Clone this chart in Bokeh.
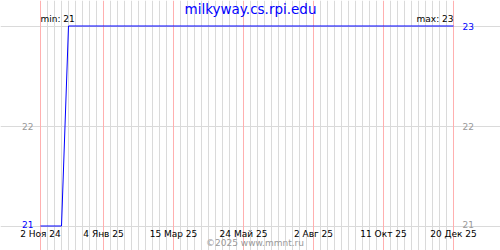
import pandas as pd
from bokeh.plotting import figure
from bokeh.models import Range1d, FixedTicker, Grid
from bokeh.core.properties import value
from bokeh.embed import file_html
from bokeh.resources import INLINE

title_text = "milkyway.cs.rpi.edu"
footer_text = "©2025 www.mmnt.ru"
dates = ["2024-11-02", "2024-11-23", "2024-11-30", "2025-12-20"]
values = [21, 21, 23, 23]
x_start_date = "2024-11-02"
x_end_date = "2025-12-20"
label_dates = ["2024-11-02", "2025-01-04", "2025-03-15", "2025-05-24",
               "2025-08-02", "2025-10-11", "2025-12-20"]
label_texts = ["2 Ноя 24", "4 Янв 25", "15 Мар 25", "24 Май 25",
               "2 Авг 25", "11 Окт 25", "20 Дек 25"]
y_ticks = [21, 22, 23]

DAY = 86400000


def ms(d):
    return pd.Timestamp(d).value // 10**6


xs = [ms(d) for d in dates]
x0, x1 = ms(x_start_date), ms(x_end_date)
red_ticks = [ms(d) for d in label_dates]
week_ticks = [int(t) for t in pd.date_range(x_start_date, x_end_date, freq="7D").astype("int64") // 10**6
              if int(t) not in red_ticks]
vmin, vmax = min(values), max(values)

FONT = "DejaVu Sans"
BLUE = "#0000ff"
GRAY = "#999999"

# frame covers the whole canvas: 1 px per day horizontally, 100 px per unit vertically
p = figure(width=500, height=250, output_backend="svg", toolbar_location=None,
           x_range=Range1d(x0 - 40 * DAY, x1 + 47 * DAY),
           y_range=Range1d(vmin - 0.245, vmax + 0.255),
           min_border=0)
p.xaxis.visible = False
p.yaxis.visible = False
p.outline_line_color = None
p.background_fill_color = "white"
p.border_fill_color = "white"

p.xgrid.ticker = FixedTicker(ticks=week_ticks)
p.xgrid.grid_line_color = "#dadada"
p.xgrid.bounds = (vmin, vmax)
p.ygrid.ticker = FixedTicker(ticks=y_ticks)
p.ygrid.grid_line_color = "#dadada"
p.ygrid.bounds = (x0, x1)
red_grid = Grid(dimension=0, ticker=FixedTicker(ticks=red_ticks), grid_line_color="#ffb0b0",
                bounds=(vmin, vmax))
p.add_layout(red_grid)

p.line(xs, values, line_color=BLUE, line_width=1)

# x tick labels
p.text(x=red_ticks, y=[vmin] * len(red_ticks), text=label_texts, y_offset=3,
       text_align="center", text_baseline="top", text_font=value(FONT),
       text_font_size="9px", text_color="black")

# left value labels
left_vals = [v for v in y_ticks if v != vmax]
p.text(x=[x0] * len(left_vals), y=left_vals, text=[str(v) for v in left_vals], x_offset=-7,
       y_offset=[-2 if v == vmin else 0 for v in left_vals],
       text_align="right", text_baseline="middle", text_font=value(FONT), text_font_size="9px",
       text_color=[BLUE if v == vmin else GRAY for v in left_vals])
# right value labels
p.text(x=[x1] * len(y_ticks), y=y_ticks, text=[str(v) for v in y_ticks], x_offset=9,
       y_offset=[-2 if v == vmin else 0 for v in y_ticks],
       text_align="left", text_baseline="middle", text_font=value(FONT), text_font_size="9px",
       text_color=[BLUE if v == vmax else GRAY for v in y_ticks])

# min / max
p.text(x=[x0], y=[vmax], text=[f"min: {vmin}"], y_offset=-2, text_align="left",
       text_baseline="bottom", text_font=value(FONT), text_font_size="9px", text_color="black")
p.text(x=[x1], y=[vmax], text=[f"max: {vmax}"], y_offset=-2, text_align="right",
       text_baseline="bottom", text_font=value(FONT), text_font_size="9px", text_color="black")

# title and footer
xm = (x0 + x1) / 2
p.text(x=[xm], y=[vmax], text=[title_text], x_offset=3.5, y_offset=-17,
       text_align="center", text_baseline="middle", text_font=value(FONT),
       text_font_size="13.5px", text_color=BLUE)
p.text(x=[xm], y=[vmin], text=[footer_text], x_offset=8, y_offset=17,
       text_align="center", text_baseline="middle", text_font=value(FONT),
       text_font_size="9px", text_color=GRAY)

open("out.html", "w").write(file_html(p, INLINE))
